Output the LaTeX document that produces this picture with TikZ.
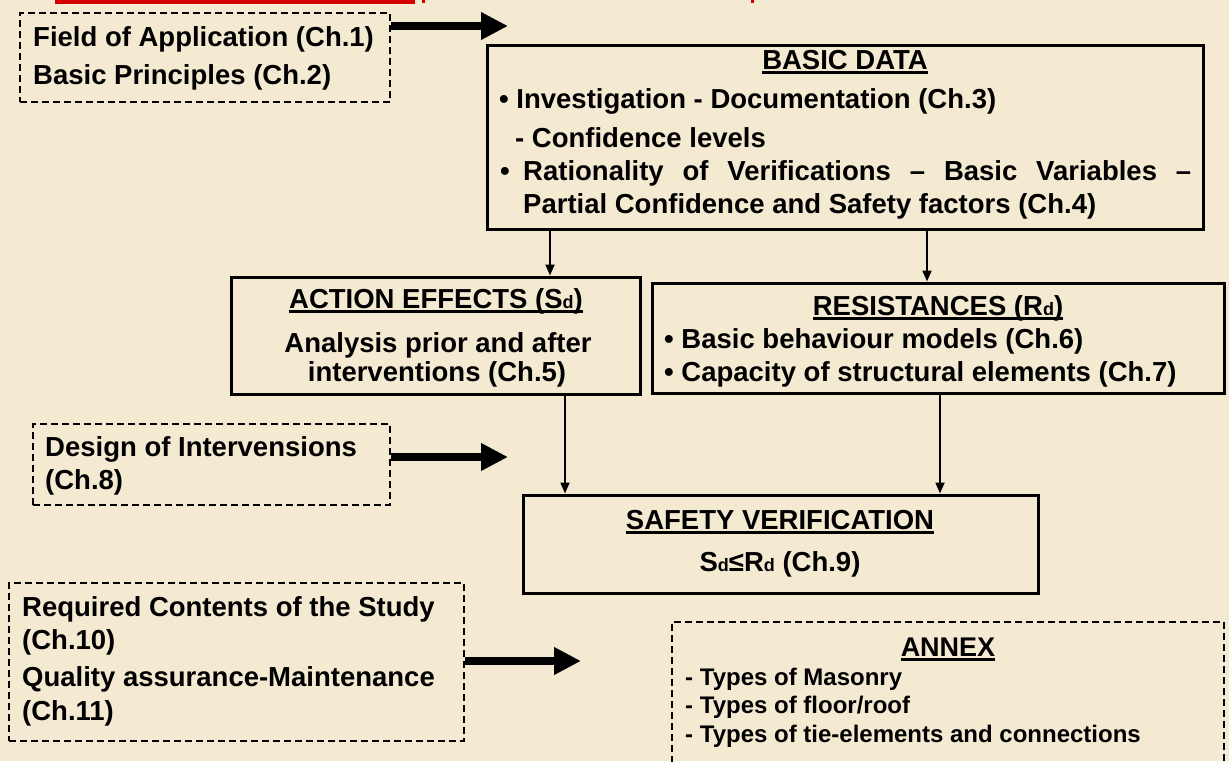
\documentclass[tikz,border=0pt]{standalone}
\usepackage{fontspec}
\setmainfont{Liberation Sans}
\usetikzlibrary{arrows.meta}
\definecolor{bg}{HTML}{F4EAD2}
\definecolor{ttred}{HTML}{D40000}
\newcommand{\fsz}[1]{\fontsize{#1}{#1}\selectfont}
\newcommand{\subd}{{\fsz{18}d}}
\newcommand{\ulx}[1]{\setbox0\hbox{#1}\rlap{\rule[-4.5pt]{\wd0}{2.2pt}}\box0}
\begin{document}
\begin{tikzpicture}[x=1pt,y=-1pt,
  solidbox/.style={draw=black, line width=3pt, inner sep=0pt},
  dbox/.style={draw=black, line width=1.5pt, dash pattern=on 7pt off 4pt, inner sep=0pt},
  txt/.style={inner sep=0pt, font=\bfseries\fsz{27.5}},
  smalltxt/.style={inner sep=0pt, font=\bfseries\fsz{24}},
  bigarrow/.style={line width=8pt, -{Triangle[length=27pt,width=26pt]}},
  smallarrow/.style={line width=2pt, -{Triangle[length=11pt,width=9pt]}}]
\fill[bg] (0,0) rectangle (1229,761);
\useasboundingbox (0,0) rectangle (1229,761);
\clip (0,0) rectangle (1229,761);
% cut-off title remnants
\fill[ttred] (55,0) rectangle (415,3.5);
\fill[ttred] (422,0) rectangle (425,3);
\fill[ttred] (751,0) rectangle (754,3);

% boxes
\node[dbox, minimum width=370, minimum height=89] (app) at (205,57.5) {};
\node[solidbox, minimum width=716, minimum height=184] (bd) at (845,137) {};
\node[solidbox, minimum width=409, minimum height=117] (ae) at (436,335.5) {};
\node[solidbox, minimum width=572, minimum height=110] (res) at (938,338) {};
\node[dbox, minimum width=357, minimum height=81] (des) at (211.5,464.5) {};
\node[solidbox, minimum width=515, minimum height=98] (sv) at (780.5,544) {};
\node[dbox, minimum width=455, minimum height=158] (req) at (236.5,662) {};
\node[dbox, minimum width=552, minimum height=170] (anx) at (948,707) {};

% texts: application
\node[txt, anchor=base west] (t11) at (33,46) {Field of Application (Ch.1)};
\node[txt, anchor=base west] (t12) at (33,84) {Basic Principles (Ch.2)};
% basic data
\node[txt, anchor=base] (t21) at (845,69) {\ulx{BASIC DATA}};
\node[txt, anchor=base west] (t22) at (499,108) {• Investigation - Documentation (Ch.3)};
\node[txt, anchor=base west] (t23) at (515,147) {- Confidence levels};
\node[txt, anchor=base west] (t24b) at (500,180) {•};
\node[txt, anchor=base west] (t24) at (523,180) {\makebox[668pt][s]{Rationality of Verifications – Basic Variables –}};
\node[txt, anchor=base west] (t25) at (523,213) {Partial Confidence and Safety factors (Ch.4)};
% action effects
\node[txt, anchor=base] (t31) at (436,308) {\ulx{ACTION EFFECTS (S\subd)}};
\node[txt, anchor=base] (t32) at (438,352) {Analysis prior and after};
\node[txt, anchor=base] (t33) at (437,381) {interventions (Ch.5)};
% resistances
\node[txt, anchor=base] (t41) at (938,315) {\ulx{RESISTANCES (R\subd)}};
\node[txt, anchor=base west] (t42) at (664,348) {• Basic behaviour models (Ch.6)};
\node[txt, anchor=base west] (t43) at (664,381) {• Capacity of structural elements (Ch.7)};
% design
\node[txt, anchor=base west] (t51) at (45,456) {Design of Intervensions};
\node[txt, anchor=base west] (t52) at (45,489) {(Ch.8)};
% safety
\node[txt, anchor=base] (t61) at (780,529) {\ulx{SAFETY VERIFICATION}};
\node[txt, anchor=base] (t62) at (780,571) {S\subd≤R\subd\ (Ch.9)};
% required
\node[txt, anchor=base west] (t71) at (22,616) {Required Contents of the Study};
\node[txt, anchor=base west] (t72) at (22,649) {(Ch.10)};
\node[txt, anchor=base west] (t73) at (22,686) {Quality assurance-Maintenance};
\node[txt, anchor=base west] (t74) at (22,720) {(Ch.11)};
% annex
\node[txt, anchor=base, font=\bfseries\fsz{27}] (t81) at (948,656) {\ulx{ANNEX}};
\node[smalltxt, anchor=base west] (t82) at (685,685) {- Types of Masonry};
\node[smalltxt, anchor=base west] (t83) at (685,713) {- Types of floor/roof};
\node[smalltxt, anchor=base west] (t84) at (685,742) {- Types of tie-elements and connections};

% connectors
\coordinate (x1) at (550,0);
\coordinate (x2) at (927,0);
\coordinate (x3) at (565,0);
\coordinate (x4) at (940,0);
\draw[smallarrow] (bd.south -| x1) -- (ae.north -| x1);
\draw[smallarrow] (bd.south -| x2) -- (res.north -| x2);
\draw[smallarrow] (ae.south -| x3) -- (sv.north -| x3);
\draw[smallarrow] (res.south -| x4) -- (sv.north -| x4);

\coordinate (a1) at (508,26);
\coordinate (a2) at (508,457);
\coordinate (a3) at (581,661);
\draw[bigarrow] (app.east |- a1) -- (a1);
\draw[bigarrow] (des.east |- a2) -- (a2);
\draw[bigarrow] (req.east |- a3) -- (a3);
\end{tikzpicture}
\end{document}
